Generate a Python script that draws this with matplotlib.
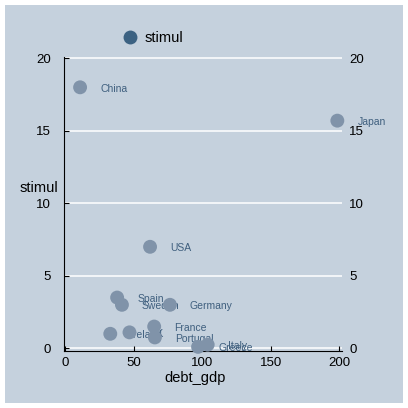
import matplotlib
matplotlib.use("Agg")
import matplotlib.pyplot as plt
from matplotlib.lines import Line2D
from matplotlib.patches import Rectangle

plt.rcParams["font.family"] = ["Liberation Sans", "DejaVu Sans"]

# stimulus (% of GDP) vs public debt (% of GDP)
countries = ["China", "Japan", "USA", "Spain", "Sweden", "Germany",
             "Ireland", "UK", "France", "Portugal", "Greece", "Italy"]
debt_gdp = [11, 198.5, 62, 38, 41.5, 76.5, 33, 47, 65, 65.5, 97, 104]
stimul = [18.0, 15.7, 7.0, 3.5, 3.0, 3.0, 1.0, 1.1, 1.5, 0.75, 0.1, 0.25]
yticks = [0, 5, 10, 15, 20]
xticks = [0, 50, 100, 150, 200]

BG = "#c5d1dd"
MARKER = "#8093a9"
LEGEND_MARKER = "#3c6282"
LABEL = "#3f5f7e"
W = H = 408.0


def fx(px):
    return px / W


def fy(px):
    return 1 - px / H


fig = plt.figure(figsize=(4.08, 4.08), dpi=100)
fig.patch.set_facecolor("white")
fig.add_artist(Rectangle((fx(5), fy(403)), fx(398), 398 / H,
                         transform=fig.transFigure, facecolor=BG,
                         edgecolor="none", zorder=0))

ax = fig.add_axes([fx(64), fy(351), (342 - 64) / W, (351 - 57) / H])
ax.set_facecolor(BG)
ax.set_xlim(-0.73, 201.9)
ax.set_ylim(-0.186, 20.09)

for s in ["top", "right"]:
    ax.spines[s].set_visible(False)
for s in ["left", "bottom"]:
    ax.spines[s].set_linewidth(0.8)

ax.set_yticks(yticks)
ax.set_xticks(xticks)
for v in yticks:
    ax.axhline(v, color="white", lw=1.1, zorder=1, xmin=0, xmax=1)

ax.tick_params(axis="y", direction="in", length=3.6, width=0.8, pad=9.4,
               labelsize=9.5)
ax.tick_params(axis="x", direction="in", length=3.6, width=0.8, pad=4.6,
               labelsize=9.5)

# right-hand copy of the y axis: labels only
ax2 = ax.twinx()
ax2.set_ylim(ax.get_ylim())
ax2.set_yticks(yticks)
for s in ax2.spines.values():
    s.set_visible(False)
ax2.tick_params(axis="y", right=False, pad=1.6, labelsize=9.5)

# labels first, markers over them (as in the original)
for name, x, y in zip(countries, debt_gdp, stimul):
    ax.annotate(name, (x, y), xytext=(14.4, -1), textcoords="offset points",
                va="center", ha="left", fontsize=7.5, color=LABEL, zorder=2)
ax.scatter(debt_gdp, stimul, s=100, color=MARKER, edgecolors="none",
           zorder=3, clip_on=False)

fig.text(fx(195), fy(378), "debt_gdp", ha="center", va="center", fontsize=10.5)
fig.text(fx(58), fy(188), "stimul", ha="right", va="center", fontsize=10.5)

handle = Line2D([], [], marker="o", ls="none", color=LEGEND_MARKER,
                markeredgecolor="none", markersize=10)
fig.legend([handle], ["stimul"], loc="center left",
           bbox_to_anchor=(fx(122.7), fy(38)), frameon=False, borderpad=0,
           borderaxespad=0, handlelength=1, handletextpad=0.53,
           fontsize=10.5)

fig.savefig("out.png", dpi=100, facecolor="white")
